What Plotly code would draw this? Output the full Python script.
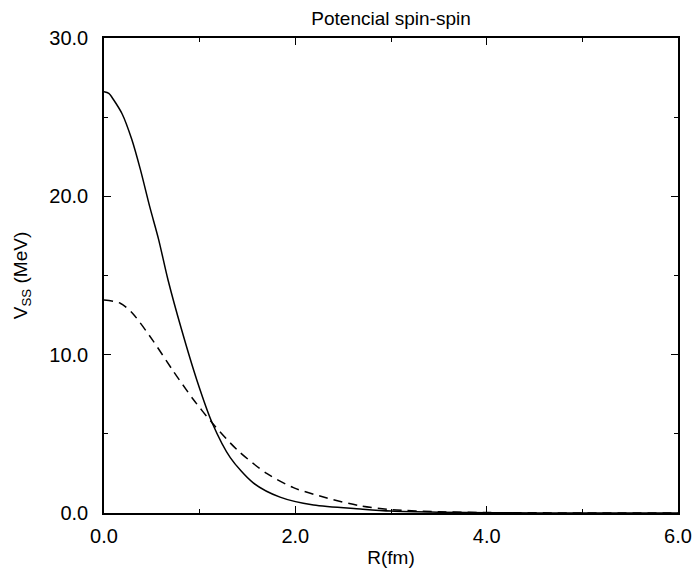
import plotly.graph_objects as go

# Solid curve
r_solid = [0.0, 0.05, 0.1, 0.19, 0.29, 0.38, 0.48, 0.57, 0.67, 0.81, 0.97, 1.13, 1.32, 1.56, 1.84, 2.19, 2.68, 3.0, 3.5, 4.0, 5.0, 6.0]
v_solid = [26.6, 26.5, 26.1, 25.2, 23.6, 21.7, 19.3, 17.3, 14.7, 11.6, 8.4, 5.7, 3.5, 1.9, 1.0, 0.5, 0.25, 0.12, 0.05, 0.02, 0.0, 0.0]

# Dashed curve
r_dash = [0.0, 0.17, 0.30, 0.51, 0.72, 0.93, 1.13, 1.39, 1.70, 1.98, 2.33, 2.68, 3.0, 3.5, 4.0, 5.0, 6.0]
v_dash = [13.45, 13.25, 12.6, 10.9, 9.0, 7.2, 5.7, 4.0, 2.5, 1.6, 0.95, 0.45, 0.22, 0.08, 0.03, 0.0, 0.0]

x_ticks = [0.0, 2.0, 4.0, 6.0]
y_ticks = [0.0, 10.0, 20.0, 30.0]

FONT = "Liberation Sans, Arial, Helvetica, sans-serif"

fig = go.Figure()
fig.add_trace(go.Scatter(x=r_solid, y=v_solid, mode="lines", line=dict(color="black", width=1.5, shape="spline", smoothing=0.8), showlegend=False))
fig.add_trace(go.Scatter(x=r_dash, y=v_dash, mode="lines", line=dict(color="black", width=1.5, dash="9px,6px", shape="spline", smoothing=0.8), showlegend=False))

axis_common = dict(
    showline=True, linecolor="black", linewidth=1.5, mirror="allticks",
    ticks="inside", ticklen=7, tickwidth=1.2, tickcolor="black",
    showgrid=False, zeroline=False, automargin=False,
    tickfont=dict(family=FONT, size=20, color="black"),
)

fig.update_xaxes(
    range=[0, 6], tickvals=x_ticks, ticktext=[f"{v:.1f}" for v in x_ticks],
    minor=dict(dtick=1, ticks="inside", ticklen=4, tickcolor="black", tickwidth=1.2),
    title=dict(text="R(fm)", font=dict(family=FONT, size=19, color="black"), standoff=5),
    ticklabelstandoff=4,
    **axis_common,
)
fig.update_yaxes(
    range=[0, 30], tickvals=y_ticks, ticktext=[f"{v:.1f}" for v in y_ticks],
    minor=dict(dtick=5, ticks="inside", ticklen=4, tickcolor="black", tickwidth=1.2),
    title=dict(text="V<sub>SS</sub> (MeV)", font=dict(family=FONT, size=19, color="black"), standoff=17),
    ticklabelstandoff=10,
    **axis_common,
)

fig.update_layout(
    width=694, height=573,
    margin=dict(l=104, r=16, t=38, b=60),
    paper_bgcolor="white", plot_bgcolor="white",
    title=dict(text="Potencial spin-spin", x=0.5635, xanchor="center", y=0.98, yanchor="top",
               font=dict(family=FONT, size=19, color="black")),
)

fig.write_html("out.html")
